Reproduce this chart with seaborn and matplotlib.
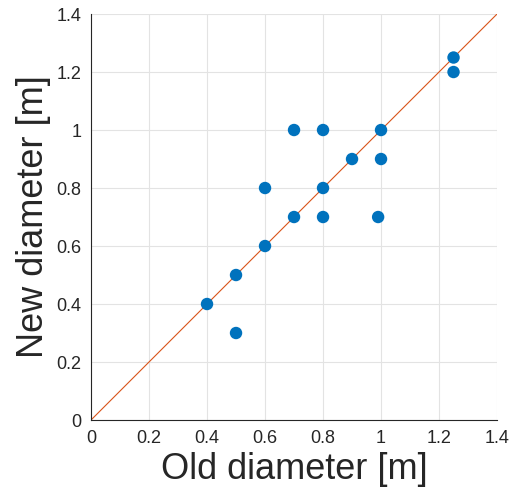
import numpy as np
import pandas as pd
import seaborn as sns
import matplotlib
matplotlib.use("Agg")
import matplotlib.pyplot as plt

# old vs new diameters [m]
old_d = [0.4, 0.5, 0.5, 0.6, 0.6, 0.7, 0.7, 0.8, 0.8, 0.8, 0.9, 1.0, 1.0, 0.99, 1.25, 1.25]
new_d = [0.4, 0.5, 0.3, 0.6, 0.8, 0.7, 1.0, 0.8, 1.0, 0.7, 0.9, 1.0, 0.9, 0.7, 1.25, 1.2]
ref_line = [0, 1.4]
ticks = [0, 0.2, 0.4, 0.6, 0.8, 1, 1.2, 1.4]
tick_labels = ['0', '0.2', '0.4', '0.6', '0.8', '1', '1.2', '1.4']

sns.set_style("white")
plt.rcParams['font.family'] = ['Liberation Sans', 'DejaVu Sans']

df = pd.DataFrame({'old': old_d, 'new': new_d})

fig = plt.figure(figsize=(5.21, 4.99), dpi=100)
ax = fig.add_axes([0.1747, 0.1583, 0.7793, 0.8136])

sns.lineplot(x=ref_line, y=ref_line, color='#D95319', linewidth=0.8, ax=ax, zorder=2)
sns.scatterplot(data=df, x='old', y='new', color='#0072BD', s=80, edgecolor='none', ax=ax, zorder=3)

ax.set_xlim(0, 1.4)
ax.set_ylim(0, 1.4)
ax.set_xticks(ticks)
ax.set_xticklabels(tick_labels)
ax.set_yticks(ticks)
ax.set_yticklabels(tick_labels)
ax.grid(True, color='#e3e3e3', linewidth=0.8)
ax.set_axisbelow(True)

for side in ['top', 'right']:
    ax.spines[side].set_visible(False)
for side in ['left', 'bottom']:
    ax.spines[side].set_color('#262626')
    ax.spines[side].set_linewidth(0.8)

ax.tick_params(direction='in', length=4, width=0.8, color='#262626',
               labelsize=13, labelcolor='#262626', pad=7)
ax.set_xlabel('Old diameter [m]', fontsize=26, color='#262626', labelpad=4)
ax.set_ylabel('New diameter [m]', fontsize=26, color='#262626', labelpad=4)

fig.savefig('out.png', dpi=100)
